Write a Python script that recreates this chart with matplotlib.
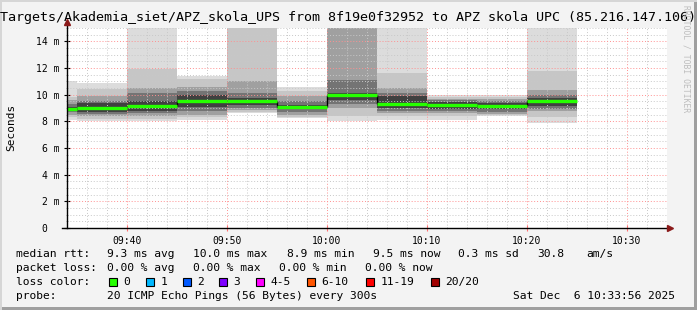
import matplotlib
matplotlib.use("Agg")
import matplotlib.pyplot as plt
from matplotlib.patches import Rectangle
import numpy as np

W, H = 697, 310
MONO = "DejaVu Sans Mono"

# --- data (ms) ---
block_start = ["09:30", "09:35", "09:40", "09:45", "09:50", "09:55",
               "10:00", "10:05", "10:10", "10:15", "10:20"]
median_ms = [8.93, 9.00, 9.12, 9.55, 9.50, 9.05, 10.00, 9.32, 9.25, 9.12, 9.50]
# upper / lower edges of the smoke bands, from the median outwards
smoke_hi = [
    [9.10, 9.30, 9.60, 9.80, 11.00],
    [9.40, 9.50, 9.90, 10.40, 10.88],
    [9.50, 10.10, 10.50, 11.90, 15.50],
    [10.00, 10.25, 10.60, 11.20, 11.40],
    [9.75, 10.10, 11.00, 15.50, 15.50],
    [9.25, 9.50, 9.87, 10.25, 10.55],
    [10.10, 11.10, 15.50, 15.50, 15.50],
    [9.87, 10.10, 10.50, 11.60, 15.50],
    [9.45, 9.60, 9.70, 9.85, 10.00],
    [9.35, 9.50, 9.70, 9.85, 10.00],
    [9.75, 10.00, 10.37, 11.75, 15.50],
]
smoke_lo = [
    [8.80, 8.70, 8.50, 8.30, 8.10],
    [8.70, 8.55, 8.37, 8.20, 8.00],
    [8.80, 8.60, 8.37, 8.20, 8.00],
    [9.10, 8.80, 8.50, 8.30, 8.10],
    [9.25, 9.00, 8.87, 8.70, 8.60],
    [8.90, 8.70, 8.50, 8.35, 8.25],
    [9.60, 9.30, 9.00, 8.37, 8.00],
    [9.00, 8.80, 8.62, 8.40, 8.10],
    [8.95, 8.80, 8.62, 8.40, 8.12],
    [8.90, 8.70, 8.55, 8.45, 8.40],
    [9.12, 8.95, 8.75, 8.30, 7.87],
]
x_ticks = ["09:40", "09:50", "10:00", "10:10", "10:20", "10:30"]
y_ticks = [0, 2, 4, 6, 8, 10, 12, 14]

loss_labels = ["0", "1", "2", "3", "4-5", "6-10", "11-19", "20/20"]
loss_colors = ["#26ff00", "#00b8ff", "#0059ff", "#7e00ff", "#ff00ff",
               "#ff5500", "#ff0000", "#a00000"]

band_grays = ["#404040", "#747474", "#a0a0a0", "#c6c6c6", "#dcdcdc"]


def minutes(s):
    h, m = s.split(":")
    return int(h) * 60 + int(m)


def fx(x):
    return x / W


def fy(y):
    return 1 - y / H


fig = plt.figure(figsize=(W / 100, H / 100), dpi=100, facecolor="#f3f3f3")
ax = fig.add_axes([fx(67), fy(228), (667 - 67) / W, (228 - 28) / H])
ax.set_facecolor("white")

starts = np.array([minutes(s) for s in block_start])
step = 5

# smoke: outer (light) bands first, darker ones on top
for lvl in range(len(band_grays) - 1, -1, -1):
    for i, s in enumerate(starts):
        hi = smoke_hi[i][lvl]
        lo = smoke_lo[i][lvl]
        ax.bar(s, hi - lo, bottom=lo, width=step, align="edge",
               color=band_grays[lvl], linewidth=0, zorder=1)

# grid
for m in np.arange(574, 635, 2):
    major = m % 10 == 0
    ax.axvline(m, color="#ff9090" if major else "#c8c8c8",
               ls=(0, (1, 2)), lw=0.7, zorder=2)
for v in np.arange(0.5, 15.01, 0.5):
    major = v % 2 == 0
    ax.axhline(v, color="#ff9090" if major else "#c8c8c8",
               ls=(0, (1, 2)), lw=0.7, zorder=2)

# median line
ax.vlines(starts[1:], median_ms[:-1], median_ms[1:], color="black", lw=1, zorder=3)
ax.hlines(median_ms, starts, starts + step, color=loss_colors[0], lw=2.4, zorder=4)

ax.set_xlim(574, 634)
ax.set_ylim(0, 15)
for sp in ax.spines.values():
    sp.set_visible(False)

ax.set_xticks([minutes(t) for t in x_ticks])
ax.set_xticklabels(x_ticks, family=MONO, fontsize=7)
ax.set_xticks(np.arange(576, 634, 2), minor=True)
ax.set_yticks(y_ticks)
ax.set_yticklabels([f"{v} m" if v else "0  " for v in y_ticks], family=MONO, fontsize=7)
ax.set_yticks(np.arange(0, 15.01, 0.5), minor=True)
ax.tick_params(axis="x", which="major", direction="inout", length=4, width=0.8,
               color="#ff7070", pad=4)
ax.tick_params(axis="x", which="minor", direction="inout", length=2, width=0.6,
               color="#bbbbbb")
ax.tick_params(axis="y", which="major", direction="inout", length=5, width=0.8,
               color="black", pad=3)
ax.tick_params(axis="y", which="minor", direction="inout", length=2, width=0.6,
               color="#999999")

# axes with arrow heads
ax.plot([0, 0], [0, 1.03], transform=ax.transAxes, color="black", lw=1,
        clip_on=False, zorder=5)
ax.plot([-0.008, 1.005], [0, 0], transform=ax.transAxes, color="black", lw=1,
        clip_on=False, zorder=5)
ax.plot([0], [1.03], transform=ax.transAxes, marker="^", ms=5, color="#8b1a1a",
        clip_on=False, zorder=6)
ax.plot([1.005], [0], transform=ax.transAxes, marker=">", ms=5, color="#8b1a1a",
        clip_on=False, zorder=6)

fig.text(fx(11), fy(127), "Seconds", family=MONO, fontsize=8, rotation=90,
         ha="center", va="center")

fig.text(fx(348), fy(18), "Targets/Akademia_siet/APZ_skola_UPS from 8f19e0f32952 to "
         "APZ skola UPC (85.216.147.106)", family=MONO, fontsize=9.6,
         ha="center", va="center")
fig.text(fx(686), fy(5), "RRDTOOL / TOBI OETIKER", family=MONO, fontsize=5.8,
         rotation=270, ha="center", va="top", color="#bdbdbd")

# legend block
txt = dict(family=MONO, fontsize=8.1, va="center", color="black")
rows = {254: [(16, "median rtt:"), (107, "9.3 ms avg"), (193, "10.0 ms max"),
              (287, "8.9 ms min"), (373, "9.5 ms now"), (458, "0.3 ms sd"),
              (537, "30.8"), (586, "am/s")],
        268: [(16, "packet loss:"), (107, "0.00 % avg"), (193, "0.00 % max"),
              (279, "0.00 % min"), (365, "0.00 % now")],
        282: [(16, "loss color:")],
        296: [(16, "probe:"), (107, "20 ICMP Echo Pings (56 Bytes) every 300s"),
              (513, "Sat Dec  6 10:33:56 2025")]}
for y, items in rows.items():
    for x, s in items:
        fig.text(fx(x), fy(y), s, **txt)

box_x = [109, 146, 183, 219, 256, 307, 366, 431]
for bx, lab, col in zip(box_x, loss_labels, loss_colors):
    fig.patches.append(Rectangle((fx(bx), fy(286)), 8 / W, 8 / H,
                                 transform=fig.transFigure, facecolor=col,
                                 edgecolor="black", lw=0.8))
    fig.text(fx(bx + 14.5), fy(282), lab, **txt)

# 3d frame
fig.patches.append(Rectangle((0, fy(310)), 1, 3 / H, transform=fig.transFigure,
                             facecolor="#9f9f9f", lw=0))
fig.patches.append(Rectangle((fx(694), 0), 3 / W, 1, transform=fig.transFigure,
                             facecolor="#9f9f9f", lw=0))
fig.patches.append(Rectangle((0, fy(2)), 1, 2 / H, transform=fig.transFigure,
                             facecolor="#d6d6d6", lw=0))
fig.patches.append(Rectangle((0, 0), 2 / W, 1, transform=fig.transFigure,
                             facecolor="#d6d6d6", lw=0))

fig.savefig("out.png", dpi=100, facecolor=fig.get_facecolor())
